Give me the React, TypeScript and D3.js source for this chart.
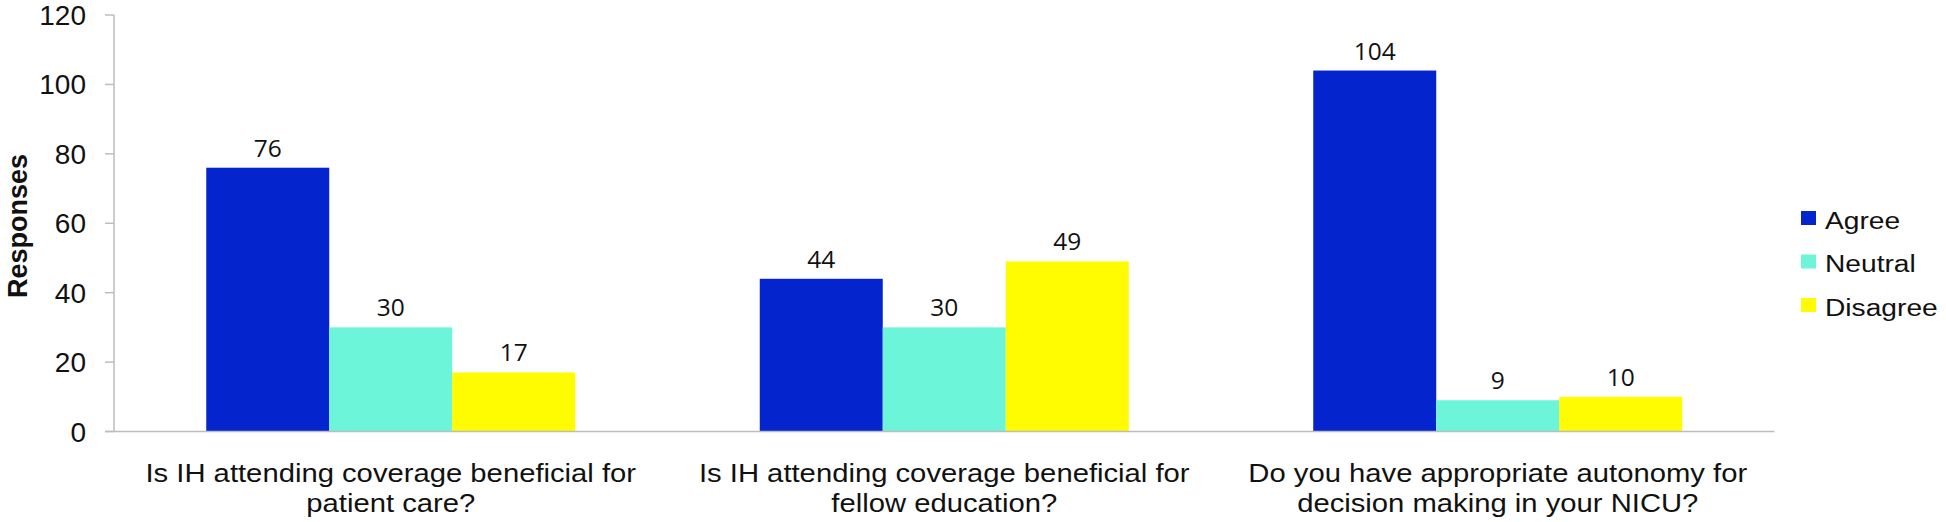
import React from "react";
import * as d3 from "d3";

const categories: string[][] = [
  ["Is IH attending coverage beneficial for", "patient care?"],
  ["Is IH attending coverage beneficial for", "fellow education?"],
  ["Do you have appropriate autonomy for", "decision making in your NICU?"],
];
const seriesNames = ["Agree", "Neutral", "Disagree"];
const agree = [76, 44, 104];
const neutral = [30, 30, 9];
const disagree = [17, 49, 10];
const yTicks = [0, 20, 40, 60, 80, 100, 120];
const colors = ["#0424CE", "#6CF5D8", "#FFFB00"];

const W = 1946;
const H = 522;
const left = 114;
const right = 1774.5;
const top = 15;
const bottom = 431.5;

export default function App() {
  const values = [agree, neutral, disagree];
  const catKeys = categories.map((_, i) => String(i));
  const x = d3.scaleBand<string>().domain(catKeys).range([left, right]).padding(0);
  const bw = x.bandwidth();
  const inner = d3
    .scaleBand<string>()
    .domain(seriesNames)
    .range([bw / 6, (bw * 5) / 6])
    .padding(0);
  const y = d3.scaleLinear().domain([0, 120]).range([bottom, top]);
  const axisColor = "#BDBDBD";

  return (
    <div style={{ position: "absolute", left: 0, top: 0 }}>
      <svg width={W} height={H} style={{ display: "block", background: "#fff" }}>
        {/* bars */}
        {catKeys.map((c, ci) => (
          <g key={c}>
            {seriesNames.map((s, si) => {
              const v = values[si][ci];
              const bx = (x(c) as number) + (inner(s) as number);
              return (
                <g key={s}>
                  <rect
                    x={bx}
                    y={y(v)}
                    width={inner.bandwidth()}
                    height={y(0) - y(v)}
                    fill={colors[si]}
                  />
                  <text
                    x={bx + inner.bandwidth() / 2}
                    y={y(v) - 11}
                    textAnchor="middle"
                    fontFamily="'Open Sans', sans-serif"
                    fontSize={24.5}
                    fill="#111"
                  >
                    {v}
                  </text>
                </g>
              );
            })}
          </g>
        ))}
        {/* y axis */}
        <line x1={left} x2={left} y1={top} y2={bottom} stroke={axisColor} strokeWidth={1.5} />
        {yTicks.map((t) => (
          <g key={t}>
            <line x1={105} x2={left} y1={y(t)} y2={y(t)} stroke={axisColor} strokeWidth={1.5} />
            <text
              x={86}
              y={y(t) + 10}
              textAnchor="end"
              fontFamily="'Liberation Sans', Arial, sans-serif"
              fontSize={28}
              fill="#111"
            >
              {t}
            </text>
          </g>
        ))}
        {/* x axis */}
        <line x1={105} x2={right} y1={bottom} y2={bottom} stroke={axisColor} strokeWidth={1.5} />
        {categories.map((lines, ci) => {
          const cx = (x(String(ci)) as number) + bw / 2;
          return lines.map((ln, li) => (
            <g key={ci + "-" + li} transform={`translate(${cx},${482 + li * 30}) scale(1.17,1)`}>
              <text
                x={0}
                y={0}
                textAnchor="middle"
                fontFamily="'Liberation Sans', Arial, sans-serif"
                fontSize={25}
                fill="#111"
              >
                {ln}
              </text>
            </g>
          ));
        })}
        {/* y title */}
        <text
          transform={`translate(27,226) rotate(-90)`}
          textAnchor="middle"
          fontFamily="'Liberation Sans', Arial, sans-serif"
          fontWeight="bold"
          fontSize={27}
          fill="#111"
        >
          Responses
        </text>
        {/* legend */}
        {seriesNames.map((s, si) => (
          <g key={s} transform={`translate(1801,${211 + si * 43.5})`}>
            <rect x={0} y={0} width={15} height={14} fill={colors[si]} />
            <g transform={`translate(24,17.5) scale(1.15,1)`}>
              <text
                x={0}
                y={0}
                fontFamily="'Liberation Sans', Arial, sans-serif"
                fontSize={24.5}
                fill="#111"
              >
                {s}
              </text>
            </g>
          </g>
        ))}
      </svg>
    </div>
  );
}
